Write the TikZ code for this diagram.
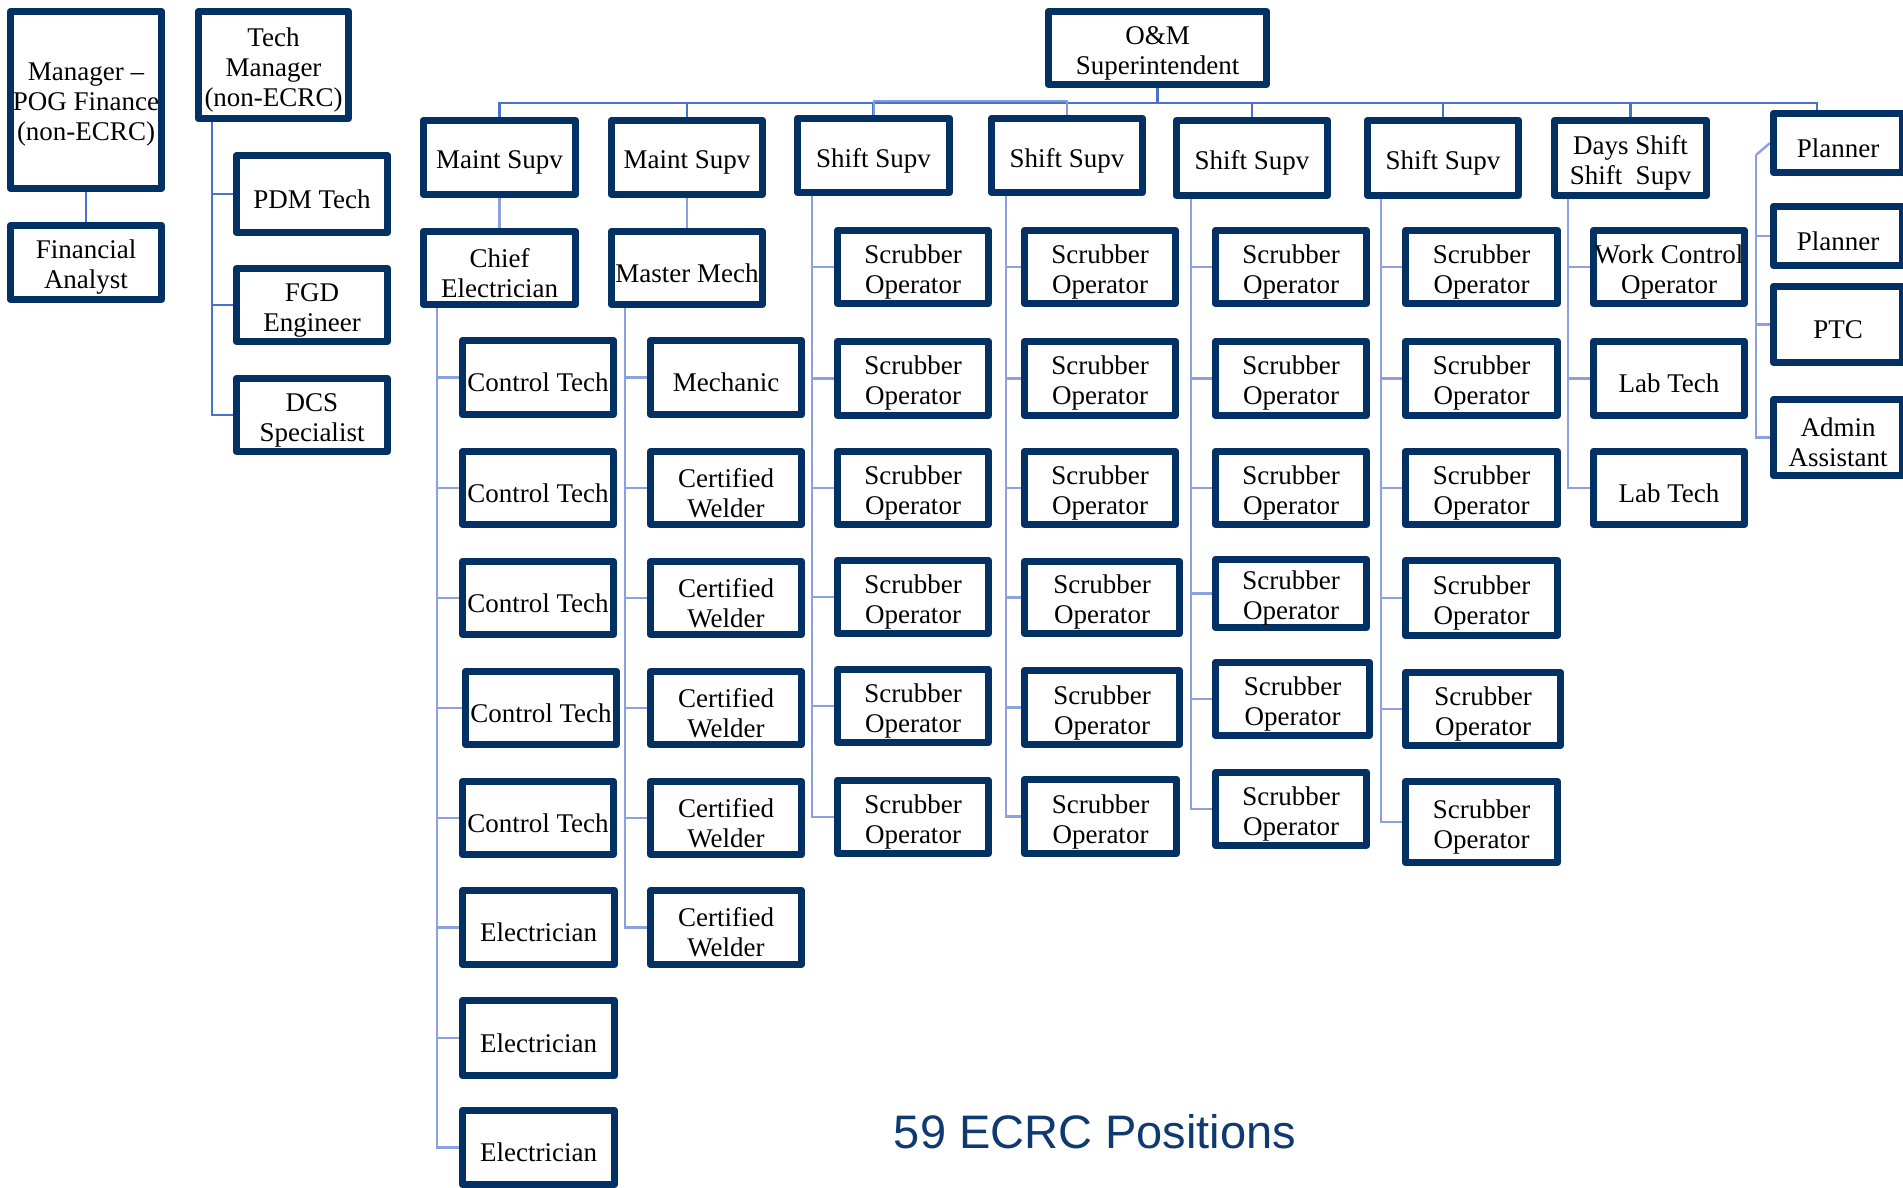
\documentclass[tikz,border=0pt]{standalone}
\usepackage{fontspec}
\setmainfont{Liberation Serif}
\newfontfamily\boxserif[Ligatures=TeX]{Liberation Serif}
\newfontfamily\labsans{Liberation Sans}
\definecolor{navy}{RGB}{4,49,100}
\definecolor{busblue}{RGB}{72,114,204}
\definecolor{connblue}{RGB}{140,162,224}
\definecolor{titleblue}{RGB}{14,58,112}
\tikzset{
  box/.style={draw=navy, line width=6.6pt, line join=round, fill=white, inner sep=0pt},
  lbl/.style={yshift=-5pt, align=center, inner sep=0pt, text=black,
    font=\boxserif\fontsize{27}{30}\selectfont},
  bus/.style={draw=busblue, line width=2.6pt},
  busb/.style={draw=busblue!70, line width=2pt},
  conn/.style={draw=connblue, line width=2.4pt},
}
\newcommand{\bx}[6]{\node[box, minimum width={(#4)-(#2)-6.6}, minimum height={(#5)-(#3)-6.6},
  label={[lbl]center:{#6}}] (#1) at ({((#2)+(#4))/2},{((#3)+(#5))/2}) {};}
\pgfdeclarelayer{front}
\pgfsetlayers{main,front}
\begin{document}
\begin{tikzpicture}[x=1pt,y=-1pt]
\fill[white] (0,0) rectangle (1903,1188);
\useasboundingbox (0,0) rectangle (1903,1188);

\begin{pgfonlayer}{front}
% left group
\bx{mgr}{7}{8}{165}{192}{Manager –\\POG Finance\\(non-ECRC)}
\bx{fa}{7}{222}{165}{303}{Financial\\Analyst}
\bx{tm}{195}{8}{352}{122}{Tech\\Manager\\(non-ECRC)}
\bx{pdm}{233}{152}{391}{236}{PDM Tech}
\bx{fgd}{233}{265}{391}{345}{FGD\\Engineer}
\bx{dcs}{233}{375}{391}{455}{DCS\\Specialist}

% top
\bx{om}{1045}{8}{1270}{88}{O\&M\\Superintendent}

% supervisors
\bx{ms1}{420}{117}{579}{198}{Maint Supv}
\bx{ms2}{608}{117}{766}{198}{Maint Supv}
\bx{ss1}{794}{115}{953}{196}{Shift Supv}
\bx{ss2}{988}{115}{1146}{196}{Shift Supv}
\bx{ss3}{1173}{117}{1331}{199}{Shift Supv}
\bx{ss4}{1364}{117}{1522}{199}{Shift Supv}
\bx{ds}{1551}{117}{1710}{199}{Days Shift\\Shift\ \ Supv}

% planners
\bx{pl1}{1770}{110}{1906}{176}{Planner}
\bx{pl2}{1770}{203}{1906}{269}{Planner}
\bx{ptc}{1770}{283}{1906}{366}{PTC}
\bx{adm}{1770}{396}{1906}{479}{Admin\\Assistant}

% chief electrician column
\bx{ce}{420}{228}{579}{308}{Chief\\Electrician}
\bx{ct1}{459}{337}{617}{418}{Control Tech}
\bx{ct2}{459}{448}{617}{528}{Control Tech}
\bx{ct3}{459}{558}{617}{638}{Control Tech}
\bx{ct4}{462}{668}{620}{748}{Control Tech}
\bx{ct5}{459}{778}{617}{858}{Control Tech}
\bx{el1}{459}{887}{618}{968}{Electrician}
\bx{el2}{459}{997}{618}{1079}{Electrician}
\bx{el3}{459}{1107}{618}{1188}{Electrician}

% master mech column
\bx{mm}{608}{228}{766}{308}{Master Mech}
\bx{mech}{647}{337}{805}{418}{Mechanic}
\bx{cw1}{647}{448}{805}{528}{Certified\\Welder}
\bx{cw2}{647}{558}{805}{638}{Certified\\Welder}
\bx{cw3}{647}{668}{805}{748}{Certified\\Welder}
\bx{cw4}{647}{778}{805}{858}{Certified\\Welder}
\bx{cw5}{647}{887}{805}{968}{Certified\\Welder}

% shift 1
\bx{a1}{834}{227}{992}{307}{Scrubber\\Operator}
\bx{a2}{834}{338}{992}{419}{Scrubber\\Operator}
\bx{a3}{834}{448}{992}{528}{Scrubber\\Operator}
\bx{a4}{834}{557}{992}{637}{Scrubber\\Operator}
\bx{a5}{834}{666}{992}{746}{Scrubber\\Operator}
\bx{a6}{834}{777}{992}{857}{Scrubber\\Operator}

% shift 2
\bx{b1}{1021}{227}{1179}{307}{Scrubber\\Operator}
\bx{b2}{1021}{338}{1179}{419}{Scrubber\\Operator}
\bx{b3}{1021}{448}{1179}{528}{Scrubber\\Operator}
\bx{b4}{1021}{558}{1183}{637}{Scrubber\\Operator}
\bx{b5}{1021}{667}{1183}{748}{Scrubber\\Operator}
\bx{b6}{1021}{776}{1180}{857}{Scrubber\\Operator}

% shift 3
\bx{c1}{1212}{227}{1370}{307}{Scrubber\\Operator}
\bx{c2}{1212}{338}{1370}{419}{Scrubber\\Operator}
\bx{c3}{1212}{448}{1370}{528}{Scrubber\\Operator}
\bx{c4}{1212}{556}{1370}{631}{Scrubber\\Operator}
\bx{c5}{1212}{659}{1373}{739}{Scrubber\\Operator}
\bx{c6}{1212}{769}{1370}{849}{Scrubber\\Operator}

% shift 4
\bx{d1}{1402}{227}{1561}{307}{Scrubber\\Operator}
\bx{d2}{1402}{338}{1561}{419}{Scrubber\\Operator}
\bx{d3}{1402}{448}{1561}{528}{Scrubber\\Operator}
\bx{d4}{1402}{557}{1561}{639}{Scrubber\\Operator}
\bx{d5}{1402}{669}{1564}{749}{Scrubber\\Operator}
\bx{d6}{1402}{778}{1561}{866}{Scrubber\\Operator}

% days shift
\bx{wc}{1590}{227}{1748}{307}{Work Control\\Operator}
\bx{lt1}{1590}{338}{1748}{419}{Lab Tech}
\bx{lt2}{1590}{448}{1748}{528}{Lab Tech}

% title
\node[anchor=base, text=titleblue, font=\labsans\fontsize{47}{50}\selectfont, inner sep=0pt] (title) at (1095,1148) {59 ECRC Positions};
\end{pgfonlayer}

% ---------- connectors ----------
\path (om.south) ++(0,15) coordinate (hub);
\draw[bus] (om.south) -- (hub);
\foreach \s in {ms1,ms2,ss1,ss2,ss3,ss4,ds} {\draw[bus] (hub) -| (\s.north);}
\draw[bus] (hub) -| ([xshift=-21pt]pl1.north);
\draw[busb] (ss1.north) -- ++(0,-14) -| (ss2.north);

% left group
\draw[bus] (mgr.south) -- (fa.north);
\foreach \c in {pdm,fgd,dcs} {\draw[bus] ([xshift=17pt]tm.south west) |- (\c.west);}

% planners
\coordinate (pspine) at (1756,155);
\draw[conn] (pl1.west) -- (pspine);
\foreach \c in {pl2,ptc,adm} {\draw[conn] (pspine) |- (\c.west);}

% maint
\draw[conn] (ms1.south) -- (ce.north);
\draw[conn] (ms2.south) -- (mm.north);
\foreach \c in {ct1,ct2,ct3,ct4,ct5,el1,el2,el3} {\draw[conn] ([xshift=17pt]ce.south west) |- (\c.west);}
\foreach \c in {mech,cw1,cw2,cw3,cw4,cw5} {\draw[conn] ([xshift=17pt]mm.south west) |- (\c.west);}

% shifts
\foreach \c in {a1,a2,a3,a4,a5,a6} {\draw[conn] ([xshift=18pt]ss1.south west) |- (\c.west);}
\foreach \c in {b1,b2,b3,b4,b5,b6} {\draw[conn] ([xshift=18pt]ss2.south west) |- (\c.west);}
\foreach \c in {c1,c2,c3,c4,c5,c6} {\draw[conn] ([xshift=18pt]ss3.south west) |- (\c.west);}
\foreach \c in {d1,d2,d3,d4,d5,d6} {\draw[conn] ([xshift=17pt]ss4.south west) |- (\c.west);}
\foreach \c in {wc,lt1,lt2} {\draw[conn] ([xshift=17pt]ds.south west) |- (\c.west);}
\end{tikzpicture}
\end{document}
